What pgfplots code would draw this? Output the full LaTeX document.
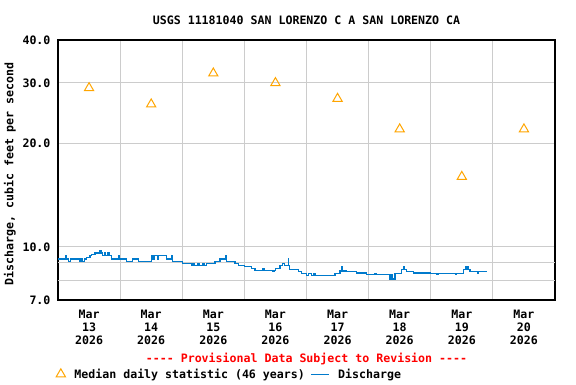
\documentclass[border=0pt]{standalone}
\usepackage{pgfplots}
\pgfplotsset{compat=1.18}
\usepackage{fontspec}
\setmonofont{DejaVu Sans Mono}
\definecolor{medorange}{RGB}{255,165,0}
\definecolor{qblue}{RGB}{0,122,204}
\definecolor{gridgray}{RGB}{204,204,204}
\newcommand\cf{\fontsize{11.6}{12.7}\selectfont\ttfamily\bfseries}
\pgfplotstableread{
d v
0.000 9.21
0.125 9.42
0.135 9.21
0.166 9.05
0.204 9.21
0.343 9.05
0.370 9.21
0.400 9.05
0.430 9.21
0.461 9.31
0.515 9.42
0.542 9.50
0.596 9.59
0.676 9.74
0.700 9.59
0.714 9.42
0.750 9.59
0.770 9.42
0.800 9.59
0.820 9.42
0.864 9.21
0.971 9.42
0.985 9.21
1.105 9.05
1.202 9.21
1.293 9.05
1.508 9.42
1.530 9.21
1.550 9.42
1.600 9.21
1.620 9.42
1.749 9.21
1.830 9.42
1.845 9.05
2.001 8.93
2.152 8.81
2.170 8.93
2.190 8.81
2.250 8.93
2.270 8.81
2.330 8.93
2.350 8.81
2.393 8.93
2.527 9.05
2.608 9.21
2.704 9.42
2.715 9.05
2.849 8.93
2.903 8.81
2.999 8.77
3.118 8.63
3.171 8.54
3.300 8.65
3.320 8.54
3.450 8.54
3.460 8.48
3.480 8.54
3.500 8.65
3.573 8.81
3.620 8.93
3.640 8.81
3.707 9.21
3.715 8.81
3.723 8.57
3.868 8.48
3.923 8.35
4.000 8.24
4.030 8.35
4.083 8.24
4.120 8.35
4.140 8.24
4.459 8.35
4.539 8.50
4.560 8.73
4.570 8.50
4.647 8.48
4.808 8.39
4.969 8.29
5.100 8.35
5.120 8.29
5.344 8.06
5.370 8.29
5.390 8.06
5.425 8.35
5.532 8.57
5.560 8.73
5.570 8.57
5.613 8.48
5.720 8.39
5.800 8.35
5.820 8.39
5.988 8.35
6.100 8.29
6.120 8.35
6.400 8.29
6.420 8.35
6.524 8.57
6.560 8.73
6.570 8.57
6.600 8.73
6.610 8.57
6.632 8.48
6.750 8.39
6.770 8.48
6.900 8.48
}\dischargetable
\begin{document}
\begin{tikzpicture}
\useasboundingbox (0pt,0pt) rectangle (576pt,384pt);
\begin{axis}[
  at={(58pt,84pt)}, anchor=south west,
  scale only axis, width=497pt, height=260pt,
  xmin=0, xmax=8, ymin=7, ymax=40, ymode=log,
  axis line style={line width=1.5pt, black},
  major tick length=0pt, minor tick length=0pt,
  ytick={7,10,20,30,40},
  yticklabels={7.0,10.0,20.0,30.0,40.0},
  extra y ticks={8,9}, extra y tick labels={},
  extra y tick style={grid=major},
  ymajorgrids=true,
  xtick={0.5,1.5,2.5,3.5,4.5,5.5,6.5,7.5},
  xticklabels={Mar\\13\\2026,Mar\\14\\2026,Mar\\15\\2026,Mar\\16\\2026,Mar\\17\\2026,Mar\\18\\2026,Mar\\19\\2026,Mar\\20\\2026},
  minor xtick={1,2,3,4,5,6,7},
  xminorgrids=true, xmajorgrids=false,
  grid style={gridgray, line width=1pt},
  minor grid style={gridgray, line width=1pt},
  xticklabel style={font=\cf, align=center, yshift=-7pt},
  yticklabel style={font=\cf, xshift=-4pt},
  ylabel={Discharge, cubic feet per second},
  ylabel style={font=\cf, at={(ticklabel cs:0.485)}, yshift=0pt},
  title={USGS 11181040 SAN LORENZO C A SAN LORENZO CA},
  title style={font=\cf, at={(0.5,1)}, anchor=center, yshift=14pt},
  legend columns=2,
  legend cell align=left,
  legend style={draw=none, fill=none, font=\cf, at={(-0.010,-0.285)}, anchor=west,
    /tikz/every odd column/.append style={column sep=7pt},
    /tikz/every even column/.append style={column sep=4pt}},
  clip=false,
]
\addplot[only marks, mark=triangle, mark size=5.3pt, color=medorange, mark options={line width=1pt}]
  coordinates {(0.5,29) (1.5,26) (2.5,32) (3.5,30) (4.5,27) (5.5,22) (6.5,16) (7.5,22)};
\addlegendentry{Median daily statistic (46 years)}
\addplot[const plot, color=qblue, line width=1.2pt] table[x=d, y=v] {\dischargetable};
\addlegendentry{Discharge}
\node[text=red, font=\cf] at (rel axis cs:0.5,-0.227) {---- Provisional Data Subject to Revision ----};
\end{axis}
\end{tikzpicture}
\end{document}
